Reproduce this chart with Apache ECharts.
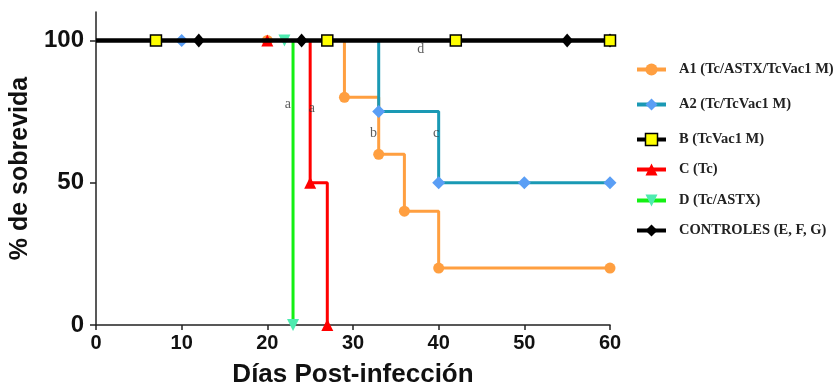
<!DOCTYPE html>
<html>
<head>
<meta charset="utf-8">
<script src="https://cdn.jsdelivr.net/npm/echarts@6/dist/echarts.min.js"></script>
<style>
  html, body { margin: 0; padding: 0; background: #fff; }
  #chart { width: 835px; height: 390px; }
</style>
</head>
<body>
<div id="chart"></div>
<script>
// Survival curves (Kaplan-Meier style): day and % survival at each marked point
const groupNames = [
  'A1 (Tc/ASTX/TcVac1 M)',
  'A2 (Tc/TcVac1 M)',
  'B (TcVac1 M)',
  'C (Tc)',
  'D (Tc/ASTX)',
  'CONTROLES (E, F, G)'
];
const a1Days = [0, 20, 29, 33, 36, 40, 60];
const a1Surv = [100, 100, 80, 60, 40, 20, 20];
const a2Days = [0, 10, 33, 40, 50, 60];
const a2Surv = [100, 100, 75, 50, 50, 50];
const bDays = [0, 7, 27, 42, 60];
const bSurv = [100, 100, 100, 100, 100];
const cDays = [0, 20, 25, 27];
const cSurv = [100, 100, 50, 0];
const dDays = [0, 22, 23];
const dSurv = [100, 100, 0];
const ctrlDays = [0, 12, 24, 55, 60];
const ctrlSurv = [100, 100, 100, 100, 100];

// Significance letters placed in data space
const noteText = ['a', 'a', 'b', 'c', 'd'];
const noteDays = [22.4, 25.2, 32.4, 39.7, 37.9];
const noteSurv = [77.6, 76.2, 67.4, 67.4, 96.9];

const xTicks = [0, 10, 20, 30, 40, 50, 60];
const yTicks = [0, 50, 100];

const serif = '"Liberation Serif", "Times New Roman", serif';
const sans = '"Liberation Sans", Arial, Helvetica, sans-serif';

// colours per group: line, marker fill
const style = {
  a1: { line: '#FF9F40', fill: '#FF9F40' },
  a2: { line: '#1A99B4', fill: '#5A9EF5' },
  b: { line: '#000000', fill: '#FFFF00' },
  c: { line: '#FF0000', fill: '#FF0000' },
  d: { line: '#14F014', fill: '#4EEBB0' },
  ctrl: { line: '#000000', fill: '#000000' }
};
const downTriangle = 'path://M0,0 L10,0 L5,9 Z';

function points(days, surv) {
  // first point (day 0) carries no marker
  return days.map((d, i) => ({
    value: [d, surv[i]],
    symbol: i === 0 ? 'none' : undefined
  }));
}

function curve(name, days, surv, st, lineWidth, symbol, symbolSize, extraItem, z) {
  return {
    name: name,
    type: 'line',
    step: 'end',
    data: points(days, surv),
    symbol: symbol,
    symbolSize: symbolSize,
    showAllSymbol: true,
    lineStyle: { color: st.line, width: lineWidth },
    itemStyle: Object.assign({ color: st.fill }, extraItem || {}),
    emphasis: { disabled: true },
    animation: false,
    z: z,
    clip: false
  };
}

const series = [
  curve(groupNames[0], a1Days, a1Surv, style.a1, 3, 'circle', 11, null, 2),
  curve(groupNames[1], a2Days, a2Surv, style.a2, 3, 'diamond', 13, null, 3),
  curve(groupNames[3], cDays, cSurv, style.c, 3, 'triangle', 12, null, 4),
  curve(groupNames[4], dDays, dSurv, style.d, 3, downTriangle, 12, null, 5),
  curve(groupNames[5], ctrlDays, ctrlSurv, style.ctrl, 4, 'diamond', [12, 14], null, 6),
  curve(groupNames[2], bDays, bSurv, style.b, 4, 'rect', 11,
        { borderColor: '#000000', borderWidth: 1.5 }, 7),
  {
    type: 'scatter',
    data: noteDays.map((d, i) => ({ value: [d, noteSurv[i]], name: noteText[i] })),
    symbolSize: 1,
    itemStyle: { color: 'rgba(0,0,0,0)' },
    label: {
      show: true,
      position: 'inside',
      formatter: p => p.name,
      fontFamily: serif,
      fontSize: 14,
      color: '#333'
    },
    silent: true,
    animation: false,
    z: 8
  }
];

// one legend block per group, stacked on the right
const legendTops = [62, 97, 132, 162, 193, 223];
const legendKeys = ['a1', 'a2', 'b', 'c', 'd', 'ctrl'];
const legends = legendKeys.map((k, i) => ({
  data: [{
    name: groupNames[i],
    lineStyle: { color: style[k].line, width: 4 },
    itemStyle: k === 'b'
      ? { color: style[k].fill, borderColor: '#000', borderWidth: 1.5 }
      : { color: style[k].fill }
  }],
  left: 635,
  top: legendTops[i],
  padding: 0,
  orient: 'vertical',
  itemWidth: 29,
  itemHeight: 15,
  itemGap: 0,
  selectedMode: false,
  textStyle: { fontFamily: serif, fontWeight: 'bold', fontSize: 14.5, color: '#222', padding: [0, 0, 0, 8] }
}));

const chart = echarts.init(document.getElementById('chart'), null, { renderer: 'canvas' });
chart.setOption({
  backgroundColor: '#fff',
  animation: false,
  grid: { left: 96, right: 225, top: 12, bottom: 65, containLabel: false, outerBoundsMode: 'none' },
  legend: legends,
  xAxis: {
    type: 'value',
    min: 0,
    max: 60,
    interval: 10,
    name: 'Días Post-infección',
    nameLocation: 'middle',
    nameGap: 37,
    nameTextStyle: { fontFamily: sans, fontWeight: 'bold', fontSize: 26, color: '#111' },
    axisLine: { lineStyle: { color: '#222', width: 1.5 } },
    axisTick: { length: 5, lineStyle: { color: '#222', width: 1.5 }, customValues: xTicks },
    axisLabel: { customValues: xTicks, fontFamily: sans, fontWeight: 'bold', fontSize: 20, color: '#111', margin: 8 },
    splitLine: { show: false }
  },
  yAxis: {
    type: 'value',
    min: 0,
    max: 110,
    interval: 50,
    name: '% de sobrevida',
    nameLocation: 'middle',
    nameGap: 59,
    nameTextStyle: { fontFamily: sans, fontWeight: 'bold', fontSize: 25, color: '#111' },
    axisLine: { show: true, lineStyle: { color: '#222', width: 1.5 } },
    axisTick: { show: true, length: 6, lineStyle: { color: '#222', width: 1.5 }, customValues: yTicks },
    axisLabel: { customValues: yTicks, fontFamily: sans, fontWeight: 'bold', fontSize: 24, color: '#111', margin: 12 },
    splitLine: { show: false }
  },
  series: series
});
</script>
</body>
</html>
